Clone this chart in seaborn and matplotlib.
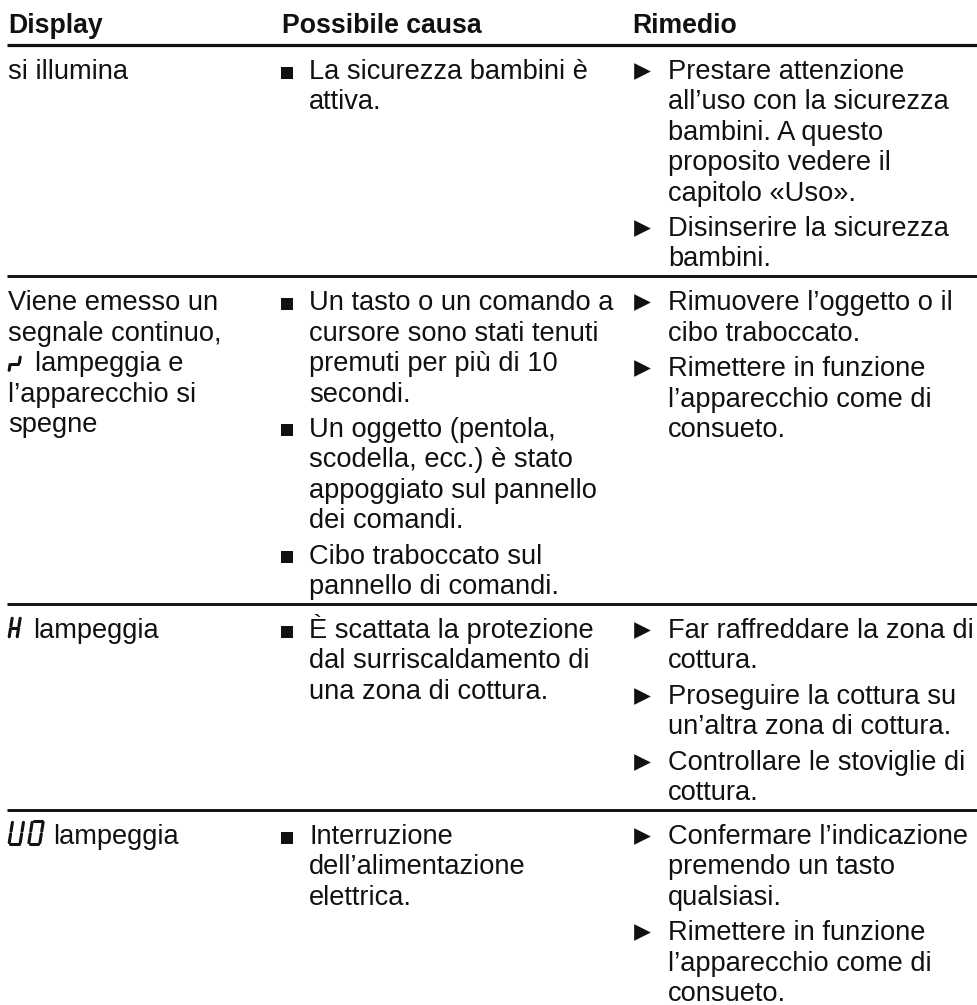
import numpy as np
import pandas as pd
import matplotlib.pyplot as plt
import seaborn as sns

# Tabella: Display / Possibile causa / Rimedio
HEADERS = ["Display", "Possibile causa", "Rimedio"]

# "{sym}" marks where the 7-segment display symbol is drawn
display_lines = [
    ["si illumina"],
    ["Viene emesso un", "segnale continuo,", "{sym} lampeggia e",
     "l’apparecchio si", "spegne"],
    ["{sym} lampeggia"],
    ["{sym} lampeggia"],
]
display_symbols = [None, "r", "H", "U0"]

causes = [
    [["La sicurezza bambini è", "attiva."]],
    [["Un tasto o un comando a", "cursore sono stati tenuti",
      "premuti per più di 10", "secondi."],
     ["Un oggetto (pentola,", "scodella, ecc.) è stato",
      "appoggiato sul pannello", "dei comandi."],
     ["Cibo traboccato sul", "pannello di comandi."]],
    [["È scattata la protezione", "dal surriscaldamento di",
      "una zona di cottura."]],
    [["Interruzione", "dell’alimentazione", "elettrica."]],
]

remedies = [
    [["Prestare attenzione", "all’uso con la sicurezza", "bambini. A questo",
      "proposito vedere il", "capitolo «Uso»."],
     ["Disinserire la sicurezza", "bambini."]],
    [["Rimuovere l’oggetto o il", "cibo traboccato."],
     ["Rimettere in funzione", "l’apparecchio come di", "consueto."]],
    [["Far raffreddare la zona di", "cottura."],
     ["Proseguire la cottura su", "un’altra zona di cottura."],
     ["Controllare le stoviglie di", "cottura."]],
    [["Confermare l’indicazione", "premendo un tasto", "qualsiasi."],
     ["Rimettere in funzione", "l’apparecchio come di", "consueto."]],
]

# segments lit for each display character
SEGMENTS_ON = {"r": "egb", "H": "bcefg", "U": "bcdef", "0": "abcdef"}

# ---- layout (pixels) ----
W, H = 978, 1005
INK = "#111111"
FS, FS_HEAD = 19.6, 19.2
X_DISP, X_CAUSE_B, X_CAUSE_T, X_REM_B, X_REM_T = 8, 287, 309, 642, 668
HEADER_BASE, HEADER_LINE = 33, 45
LS, GAP, PAD_TOP, PAD_BOT = 30.4, 5.0, 34, 10
SYM_SIZE = {"r": (9, 15, 35), "H": (8, 21, 33), "U0": (11, 23, 53)}  # w, h, text x

SEG = {"a": ((0, 1), (1, 1)), "b": ((1, 1), (1, .5)), "c": ((1, .5), (1, 0)),
       "d": ((0, 0), (1, 0)), "e": ((0, .5), (0, 0)), "f": ((0, 1), (0, .5)),
       "g": ((0, .5), (1, .5))}

sns.set_theme(style="white")
plt.rcParams["font.family"] = ["Liberation Sans", "DejaVu Sans"]

fig = plt.figure(figsize=(W / 100, H / 100), dpi=100)
ax = fig.add_axes([0, 0, 1, 1])


def draw_digit(x0, base, w, h, segs, slant=0.16, gap=0.12):
    for s in segs:
        (u0, v0), (u1, v1) = SEG[s]
        u0g, v0g = u0 + (u1 - u0) * gap, v0 + (v1 - v0) * gap
        u1g, v1g = u1 - (u1 - u0) * gap, v1 - (v1 - v0) * gap
        xs = [x0 + u0g * w + slant * v0g * h, x0 + u1g * w + slant * v1g * h]
        ys = [base - v0g * h, base - v1g * h]
        ax.plot(xs, ys, color=INK, lw=2.2, solid_capstyle="round")


def draw_symbol(sym, x0, base):
    w, h, _ = SYM_SIZE[sym]
    step = w + 0.16 * h + 5
    for i, ch in enumerate(sym):
        draw_digit(x0 + i * step, base, w, h, SEGMENTS_ON[ch])


def block_height(paras):
    n = sum(len(p) for p in paras)
    return (n - 1) * LS + (len(paras) - 1) * GAP


for x, t in zip([X_DISP, 282, 632], HEADERS):
    ax.text(x, HEADER_BASE, t, fontsize=FS_HEAD, fontweight="bold", color=INK,
            va="baseline")
ax.hlines(HEADER_LINE, 7, W, color=INK, lw=2.3)

squares, arrows = [], []
top = HEADER_LINE
for r in range(len(display_lines)):
    base0 = top + PAD_TOP
    # colonna Display
    for i, line in enumerate(display_lines[r]):
        y = base0 + i * LS
        if line.startswith("{sym}"):
            sym = display_symbols[r]
            draw_symbol(sym, X_DISP + 1, y)
            ax.text(SYM_SIZE[sym][2], y, line.replace("{sym} ", ""), fontsize=FS,
                    color=INK, va="baseline")
        else:
            ax.text(X_DISP, y, line, fontsize=FS, color=INK, va="baseline")
    # colonne causa / rimedio
    for paras, xb, xt, store, dy in [(causes[r], X_CAUSE_B, X_CAUSE_T, squares, 6.5),
                                     (remedies[r], X_REM_B, X_REM_T, arrows, 8.0)]:
        y = base0
        for p in paras:
            store.append((xb, y - dy))
            for line in p:
                ax.text(xt, y, line, fontsize=FS, color=INK, va="baseline")
                y += LS
            y += GAP
    hmax = max((len(display_lines[r]) - 1) * LS,
               block_height(causes[r]), block_height(remedies[r]))
    top = base0 + hmax + PAD_BOT
    if r < len(display_lines) - 1:
        ax.hlines(top, 7, W, color=INK, lw=2.1)

sq = pd.DataFrame(squares, columns=["x", "y"])
ar = pd.DataFrame(arrows, columns=["x", "y"])
sns.scatterplot(data=sq, x="x", y="y", marker="s", s=8.0 ** 2, color=INK,
                linewidth=0, legend=False, ax=ax)
sns.scatterplot(data=ar, x="x", y="y", marker=">", s=12 ** 2, color=INK,
                linewidth=0, legend=False, ax=ax)
ax.set_xlim(0, W)
ax.set_ylim(H, 0)
ax.axis("off")

fig.savefig("out.png", dpi=100)
